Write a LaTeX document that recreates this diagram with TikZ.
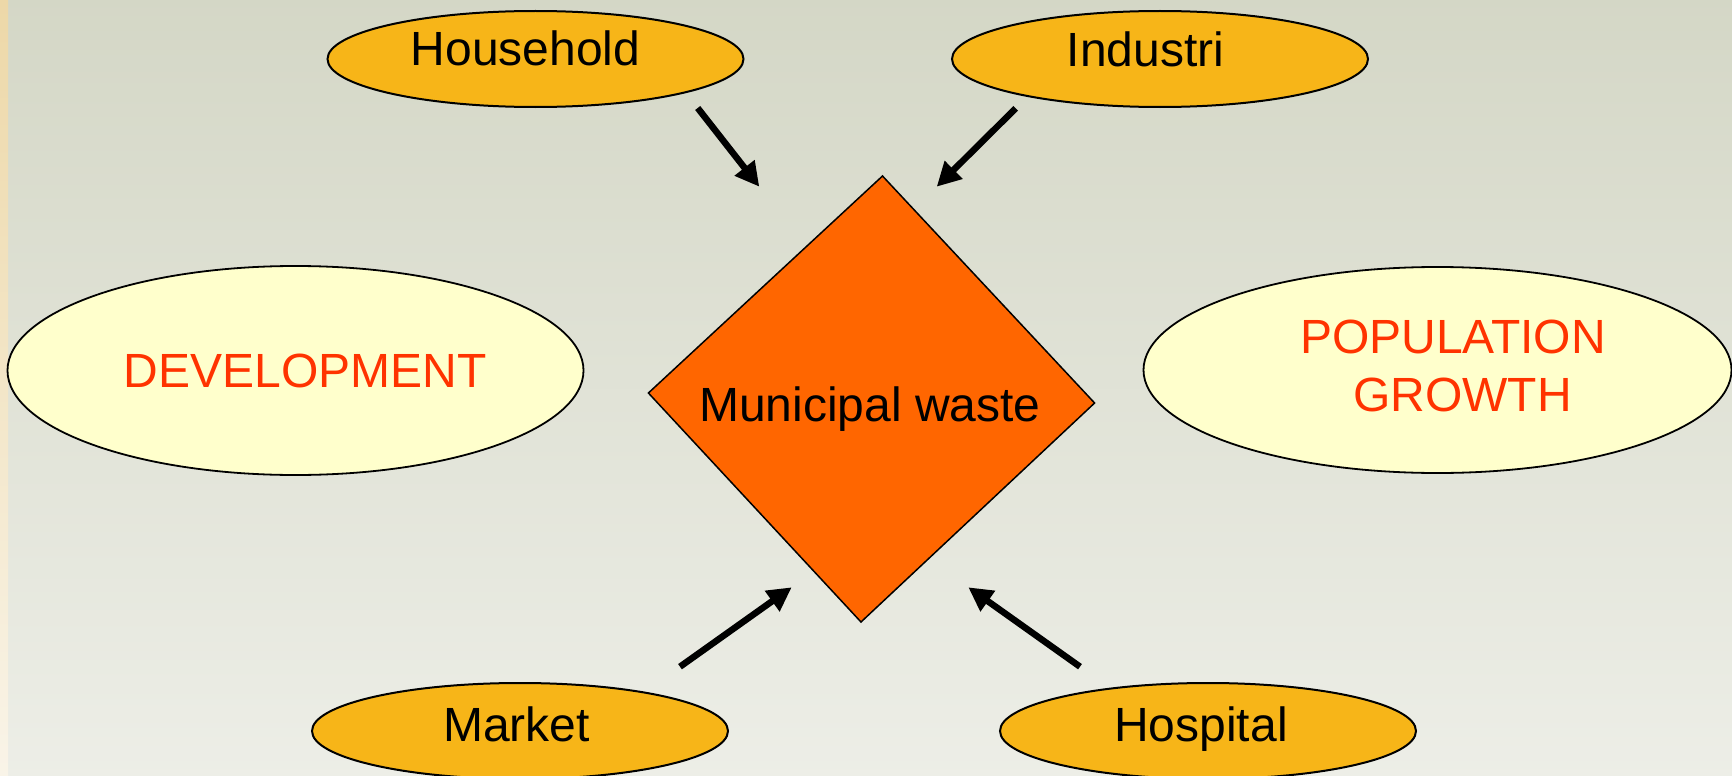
\documentclass[tikz,border=0pt]{standalone}
\usepackage{fontspec}
\setmainfont{Liberation Sans}
\usetikzlibrary{shapes.geometric,arrows.meta}
\definecolor{bgdark}{HTML}{C2C6AE}
\definecolor{bglight}{HTML}{FFFFFF}
\definecolor{stripdark}{HTML}{EDD8A8}
\definecolor{striplight}{HTML}{F9F4E8}
\definecolor{srcfill}{HTML}{F7B518}
\definecolor{factfill}{HTML}{FFFFCC}
\definecolor{facttext}{HTML}{FF3300}
\definecolor{wastefill}{HTML}{FF6600}
\tikzset{
  srcell/.style={ellipse, draw=black, line width=2pt, fill=srcfill, inner sep=0pt, minimum width=416pt, minimum height=96pt},
  factell/.style={ellipse, draw=black, line width=1.8pt, fill=factfill, inner sep=0pt},
  lbl/.style={anchor=base, inner sep=0pt, font=\fontsize{48}{58.4}\selectfont},
  factlbl/.style={lbl, text=facttext},
  flow/.style={line width=6.5pt, -{Triangle[length=24pt,width=24pt]}},
}
\begin{document}
\begin{tikzpicture}[x=1pt,y=-1pt]
\useasboundingbox (0,0) rectangle (1732,776);
% background
\begin{scope}
\clip (0,0) rectangle (1732,776);
\shade[shading angle=45, top color=bgdark, bottom color=bglight] (-100,-578) rectangle (1832,1354);
\end{scope}
\shade[top color=stripdark, bottom color=striplight] (0,0) rectangle (8,776);

% source ellipses
\node[srcell] (hh) at (535.5,59) {};
\node[srcell] (ind) at (1160,59) {};
\node[srcell] (mk) at (520,731) {};
\node[srcell] (hos) at (1208,731) {};
\node[lbl] (hht) at (525.5,66) {Household};
\node[lbl] (indt) at (1145.5,66.5) {Industri};
\node[lbl] (mkt) at (516.5,741.5) {Market};
\node[lbl] (host) at (1201,741.5) {Hospital};

% factor ellipses
\node[factell, minimum width=576pt, minimum height=209pt] (dev) at (295.5,370.5) {};
\node[factell, minimum width=588pt, minimum height=206pt] (pop) at (1437.5,370) {};
\node[factlbl] (devt) at (305,387) {DEVELOPMENT};
\node[factlbl] (popt1) at (1453,353.3) {POPULATION};
\node[factlbl] (popt2) at (1462.5,411.7) {GROWTH};

% diamond
\coordinate (dtop) at (882.5,176);
\coordinate (dright) at (1094.6,403);
\coordinate (dbot) at (861,622);
\coordinate (dleft) at (648.4,393);
\draw[fill=wastefill, draw=black, line width=1.5pt, line join=miter] (dtop) -- (dright) -- (dbot) -- (dleft) -- cycle;
\node[lbl] (mw) at (870,421.7) {Municipal waste};

% arrows
\coordinate (a1s) at (697.7,108);
\coordinate (a1e) at (759.3,186.7);
\coordinate (a2s) at (1015.7,108.3);
\coordinate (a2e) at (936.7,186.7);
\coordinate (a3s) at (680,666.7);
\coordinate (a3e) at (791.7,587.3);
\coordinate (a4s) at (1080,666.7);
\coordinate (a4e) at (968.3,587.3);
\draw[flow] (a1s) -- (a1e);
\draw[flow] (a2s) -- (a2e);
\draw[flow] (a3s) -- (a3e);
\draw[flow] (a4s) -- (a4e);
\end{tikzpicture}
\end{document}
